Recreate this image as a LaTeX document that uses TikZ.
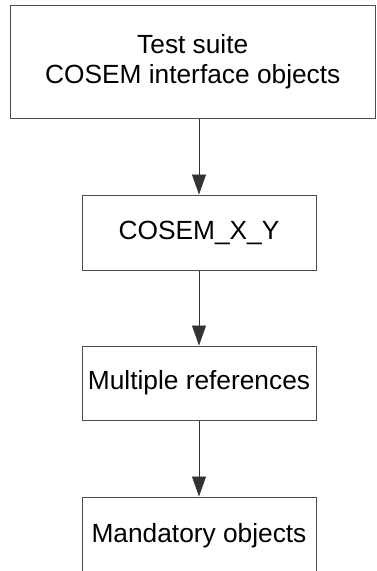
\documentclass[tikz,border=0pt]{standalone}
\usepackage{fontspec}
\setmainfont{Liberation Sans}
\usetikzlibrary{arrows.meta}
\begin{document}
\begin{tikzpicture}[x=1pt,y=-1pt,
  boxstyle/.style={draw=black!70,line width=1pt,inner sep=0pt,align=center,font=\fontsize{26.3}{30}\selectfont},
  conn/.style={draw=black!80,line width=0.8pt,-{Triangle[length=20pt,width=14pt]}}]
\useasboundingbox (0,0) rectangle (377,571);
\clip (0,0) rectangle (377,571);
\node[boxstyle,minimum width=365.5pt,minimum height=113.5pt] (b1) at (192.75,61.75) {Test suite\\COSEM interface objects};
\node[boxstyle,minimum width=234pt,minimum height=75pt] (b2) at (199,232.5) {COSEM\_X\_Y};
\node[boxstyle,minimum width=234pt,minimum height=74pt] (b3) at (199,383) {Multiple references};
\node[boxstyle,minimum width=234pt,minimum height=78pt] (b4) at (199,536) {Mandatory objects};
\draw[conn] (b1.south -| b2.north) -- (b2.north);
\draw[conn] (b2) -- (b3);
\draw[conn] (b3) -- (b4);
\end{tikzpicture}
\end{document}
